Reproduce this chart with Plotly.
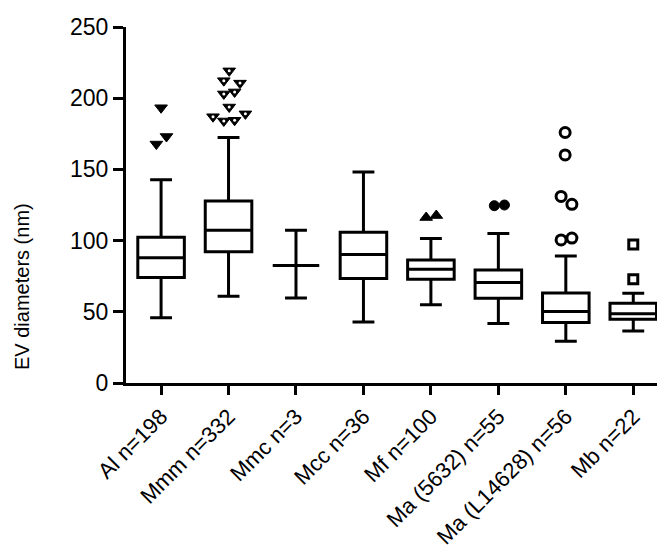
import plotly.graph_objects as go

categories = ["Al n=198", "Mmm n=332", "Mmc n=3", "Mcc n=36", "Mf n=100",
              "Ma (5632) n=55", "Ma (L14628) n=56", "Mb n=22"]
q1 = [74.1, 92.1, 82.6, 73.4, 72.9, 59.5, 42.4, 44.7]
median = [88.0, 107.2, 82.6, 90.3, 79.9, 70.6, 50.2, 48.6]
q3 = [102.3, 127.8, 82.6, 105.8, 86.3, 79.4, 63.2, 56.0]
lower = [45.8, 60.9, 59.7, 42.8, 54.9, 41.7, 29.4, 36.6]
upper = [142.8, 172.4, 107.2, 148.1, 101.4, 104.9, 89.1, 63.0]

# outliers per group: values and small horizontal jitter (category units)
al_out_y = [193.3, 173.1, 167.8]
al_out_dx = [0.0, 0.08, -0.07]
mmm_out_y = [219.2, 212.3, 210.6, 203.0, 204.4, 193.8, 187.0, 184.0, 184.5, 189.0]
mmm_out_dx = [0.01, -0.07, 0.17, -0.07, 0.09, 0.01, -0.23, -0.07, 0.09, 0.25]
mf_out_y = [116.2, 117.6]
mf_out_dx = [-0.07, 0.08]
ma5632_out_y = [124.5, 125.0]
ma5632_out_dx = [-0.06, 0.09]
mal_out_y = [175.9, 160.2, 131.0, 125.5, 100.5, 101.8]
mal_out_dx = [-0.01, -0.01, -0.07, 0.09, -0.07, 0.09]
mb_out_y = [97.2, 72.9]
mb_out_dx = [0.0, 0.0]

FONT = "Arial, Liberation Sans, sans-serif"
fig = go.Figure()

for i, c in enumerate(categories):
    fig.add_trace(go.Box(
        x=[i], q1=[q1[i]], median=[median[i]], q3=[q3[i]],
        lowerfence=[lower[i]], upperfence=[upper[i]],
        boxpoints=False, width=0.69, whiskerwidth=0.47,
        line=dict(color="black", width=3), fillcolor="white",
        showlegend=False, hoverinfo="skip",
    ))

def add_out(idx, dx, ys, symbol, color, lw, size):
    fig.add_trace(go.Scatter(
        x=[idx + d for d in dx], y=ys, mode="markers",
        marker=dict(symbol=symbol, color=color, size=size,
                    line=dict(color="black", width=lw)),
        showlegend=False, hoverinfo="skip",
    ))

add_out(0, al_out_dx, al_out_y, "triangle-down", "black", 1, 11)
add_out(1, mmm_out_dx, mmm_out_y, "triangle-down", "black", 1, 11)
add_out(1, mmm_out_dx, mmm_out_y, "circle", "white", 0, 3)
add_out(4, mf_out_dx, mf_out_y, "triangle-up", "black", 1, 11)
add_out(5, ma5632_out_dx, ma5632_out_y, "circle", "black", 1, 10)
add_out(6, mal_out_dx, mal_out_y, "circle", "white", 3, 10)
add_out(7, mb_out_dx, mb_out_y, "square", "white", 3, 9)

fig.update_layout(
    width=665, height=553,
    margin=dict(l=118, r=6, t=15, b=178),
    paper_bgcolor="white", plot_bgcolor="white",
    font=dict(family=FONT, color="black", size=20),
    annotations=[dict(
        text="EV diameters (nm)", textangle=-90, showarrow=False,
        xref="paper", yref="paper", x=-0.192, y=0.27,
        xanchor="center", yanchor="middle", font=dict(size=20),
    )],
)
fig.update_xaxes(
    range=[-0.52, 7.5], tickmode="array",
    tickvals=list(range(len(categories))), ticktext=categories,
    tickangle=-45, showline=True, linecolor="black", linewidth=3,
    ticks="outside", tickwidth=3, ticklen=9, tickcolor="black",
    showgrid=False, zeroline=False, tickfont=dict(size=22),
)
fig.update_yaxes(
    range=[0, 250], dtick=50, showline=True, linecolor="black", linewidth=3,
    ticks="outside", tickwidth=3, ticklen=10, tickcolor="black",
    showgrid=False, zeroline=False, tickfont=dict(size=23),
)

fig.write_html("out.html")
